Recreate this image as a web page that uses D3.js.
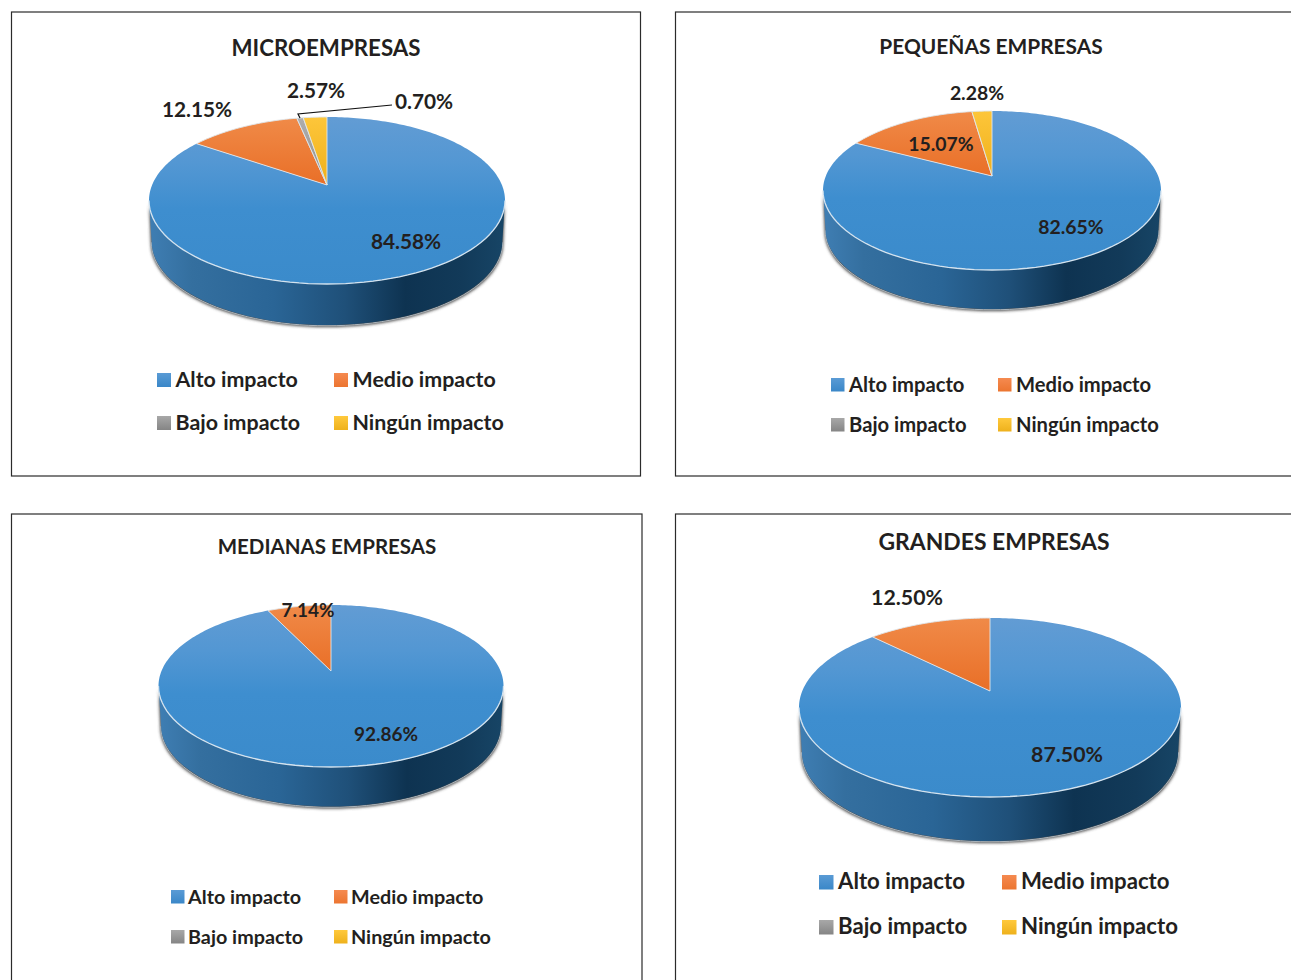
<!DOCTYPE html>
<html><head><meta charset="utf-8">
<script src="https://cdn.jsdelivr.net/npm/d3@7"></script>
<style>html,body{margin:0;padding:0;background:#fff;overflow:hidden}text{font-family:Lato,"Noto Sans",sans-serif;font-weight:700;fill:#231f20}</style>
</head><body><svg id="c" width="1291" height="980"></svg>
<script>
const categories = ["Alto impacto","Medio impacto","Bajo impacto","Ningún impacto"];
const titles = ["MICROEMPRESAS","PEQUEÑAS EMPRESAS","MEDIANAS EMPRESAS","GRANDES EMPRESAS"];
const microValues = [84.58,12.15,0.70,2.57];
const pequenasValues = [82.65,15.07,0,2.28];
const medianasValues = [92.86,7.14,0,0];
const grandesValues = [87.50,12.50,0,0];
const seriesValues = [microValues,pequenasValues,medianasValues,grandesValues];

const layouts = [
 {box:[11.5,12,629,464],title:[326,56,22.3],cx:327,top:117,bot:284,rx:178,apex:185,depth:41,
  leg:{xs:[157,334],ys:[373,416],sw:14,tx:18.5,fs:21.4,base:14},lab:{fs:20.8,pos:[[406,249],[197,117],[424,109],[316,98]]}},
 {box:[675.5,12,640,464],title:[991,54,20.9],cx:992,top:111,bot:270,rx:169,apex:176,depth:39,
  leg:{xs:[831,998],ys:[378,418],sw:13.5,tx:18,fs:20.2,base:13.5},lab:{fs:19.4,pos:[[1071,234],[941,151],null,[977,100]]}},
 {box:[11.5,514,630.5,500],title:[327,554,20.5],cx:331,top:605,bot:767,rx:172.5,apex:671,depth:39.5,
  leg:{xs:[171,334],ys:[890,930],sw:13.5,tx:17,fs:19.8,base:13.5},lab:{fs:19,pos:[[386,741],[308,617]]}},
 {box:[675.5,514,640,500],title:[994,550,22.9],cx:990,top:618,bot:797,rx:191,apex:691,depth:44,
  leg:{xs:[819,1002],ys:[875,920],sw:14.5,tx:19,fs:22.2,base:14},lab:{fs:21.3,pos:[[1067,762],[907,605]]}}
];
const leader = {panel:0, slice:2, elbow:[298,114], end:[392,105]};

const svg = d3.select("#c");
const defs = svg.append("defs");
function grad(id,x2,y2,stops){
  const g=defs.append("linearGradient").attr("id",id).attr("x1",0).attr("y1",0).attr("x2",x2).attr("y2",y2);
  stops.forEach(s=>g.append("stop").attr("offset",s[0]).attr("stop-color",s[1]));
}
grad("g0",0,1,[[0,"#629cd4"],[0.28,"#5397d3"],[0.55,"#3e8ecf"],[1,"#3b8bcb"]]);
grad("g1",0,1,[[0,"#f08a48"],[1,"#e96f27"]]);
grad("g2",0,1,[[0,"#adadad"],[1,"#8f8f8f"]]);
grad("g3",0,1,[[0,"#fdc63a"],[1,"#efb01c"]]);
grad("wall",1,0,[[0,"#3f7eb3"],[0.12,"#346f9f"],[0.35,"#2a6596"],[0.55,"#1f5079"],[0.72,"#0e3351"],[0.88,"#123a59"],[1,"#174566"]]);
grad("lg0",0,1,[[0,"#5a9bd5"],[1,"#3a87c8"]]);
grad("lg1",0,1,[[0,"#f58a50"],[1,"#ec7530"]]);
grad("lg2",0,1,[[0,"#a8a8a8"],[1,"#858585"]]);
grad("lg3",0,1,[[0,"#ffc93c"],[1,"#eeb11c"]]);
defs.append("filter").attr("id","sh").attr("x","-10%").attr("y","-10%").attr("width","120%").attr("height","130%")
  .append("feGaussianBlur").attr("stdDeviation",1.4);

const pieGen = d3.pie().sort(null).value(d=>d);

layouts.forEach((L,pi)=>{
  const vals = seriesValues[pi];
  const g = svg.append("g");
  g.append("rect").attr("x",L.box[0]).attr("y",L.box[1]).attr("width",L.box[2]).attr("height",L.box[3])
    .attr("fill","#fff").attr("stroke","#2b2b2b").attr("stroke-width",1.2);
  g.append("text").attr("x",L.title[0]).attr("y",L.title[1]).attr("text-anchor","middle").attr("font-size",L.title[2]).text(titles[pi]);

  const cy=(L.top+L.bot)/2, ry=(L.bot-L.top)/2;
  const sx=d3.scaleLinear().domain([-1,1]).range([L.cx-L.rx,L.cx+L.rx]);
  const sy=d3.scaleLinear().domain([-1,1]).range([L.top,L.bot]);
  const d0=(cy-L.apex)/ry;
  const c0=Math.sqrt(1-d0*d0);
  // perspective projection of a point of the flat disc onto the tilted pie
  const proj=(t,r=1)=>{const u=r*Math.sin(t),v=-r*Math.cos(t),w=1-d0*v;return [sx(c0*u/w),sy((v-d0)/w)];};
  const line=d3.line();
  const lowerHalf=(dy,k)=>d3.range(0,181,3).map(a=>{const t=a*Math.PI/180;return [L.cx+k*L.rx*Math.cos(t),cy+dy+ry*Math.sin(t)];});

  // shadow + wall
  const low=lowerHalf(L.depth,0.985);
  const upper=lowerHalf(0,1);
  g.append("path").attr("d",line(lowerHalf(L.depth+2,0.99).concat(lowerHalf(0,1).reverse()))+"Z")
    .attr("fill","#444").attr("filter","url(#sh)");
  g.append("path").attr("d",line(lowerHalf(L.depth+0.8,0.987))).attr("fill","none").attr("stroke","#aab4bc").attr("stroke-width",1);
  g.append("path").attr("d",line(low.concat(upper.slice().reverse()))+"Z").attr("fill","url(#wall)");

  // slices
  const arcs=pieGen(vals);
  g.selectAll("path.slice").data(arcs.filter(a=>a.data>0)).join("path").attr("class","slice")
    .attr("d",a=>{
      const n=Math.max(2,Math.ceil((a.endAngle-a.startAngle)/0.02));
      const pts=d3.range(n+1).map(i=>proj(a.startAngle+(a.endAngle-a.startAngle)*i/n));
      return line([proj(0,0)].concat(pts))+"Z";
    })
    .attr("fill",a=>`url(#g${a.index})`)
    .attr("stroke",a=>a.index===0?"none":"#dfe6ec").attr("stroke-width",0.9).attr("stroke-linejoin","round");
  // light rim on the front edge
  g.append("path").attr("d",line(upper)).attr("fill","none").attr("stroke","#d4e3ef").attr("stroke-width",1.3);

  // leader
  if(leader.panel===pi){
    const a=arcs[leader.slice];
    g.append("path").attr("d",line([proj((a.startAngle+a.endAngle)/2),leader.elbow,leader.end]))
      .attr("fill","none").attr("stroke","#111").attr("stroke-width",1.2);
  }
  // data labels
  const fmt=d3.format(".2f");
  arcs.forEach((a,i)=>{
    if(!(a.data>0)||!L.lab.pos[i])return;
    g.append("text").attr("x",L.lab.pos[i][0]).attr("y",L.lab.pos[i][1]).attr("text-anchor","middle")
      .attr("font-size",L.lab.fs).text(fmt(a.data)+"%");
  });
  // legend
  categories.forEach((c,i)=>{
    const x=L.leg.xs[i%2], y=L.leg.ys[Math.floor(i/2)];
    g.append("rect").attr("x",x).attr("y",y).attr("width",L.leg.sw).attr("height",L.leg.sw).attr("fill",`url(#lg${i})`);
    g.append("text").attr("x",x+L.leg.tx).attr("y",y+L.leg.base).attr("font-size",L.leg.fs).text(c);
  });
});
</script></body></html>
